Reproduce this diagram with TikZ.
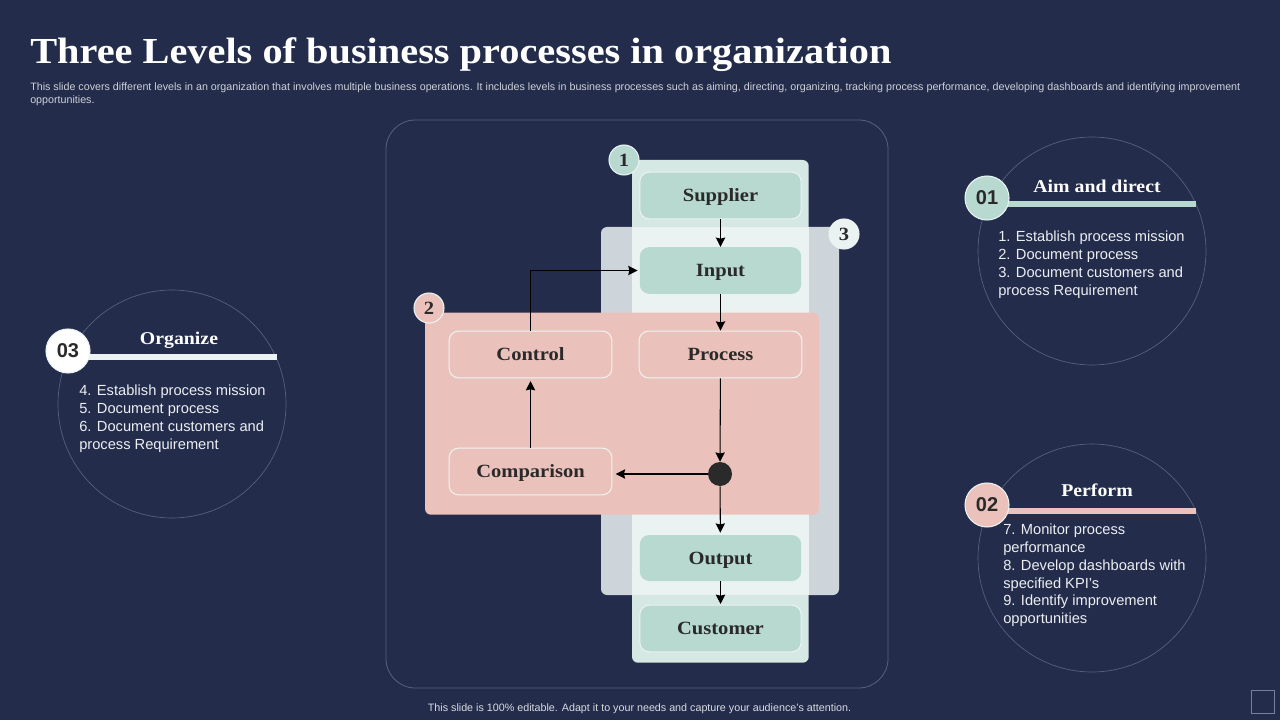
\documentclass[tikz,border=0pt]{standalone}
\usepackage{fontspec}
\usetikzlibrary{arrows.meta}
\setmainfont{Liberation Sans}
\newfontfamily\headfont[FakeStretch=1.1]{Liberation Serif}
\definecolor{bgc}{HTML}{232D4B}
\definecolor{mint}{HTML}{B7D9CF}
\definecolor{mintpanel}{HTML}{D6E8E4}
\definecolor{overlap}{HTML}{EBF3F2}
\definecolor{greypanel}{HTML}{CDD5DA}
\definecolor{pinkc}{HTML}{EBC2BB}
\definecolor{outline}{HTML}{566180}
\definecolor{tan}{HTML}{D2B48C}
\definecolor{bodytext}{HTML}{ECEEF2}
\definecolor{darktext}{HTML}{2A2A2A}
\tikzset{
  x=0.75pt,y=-0.75pt,
  panel/.style={rounded corners=4.5pt},
  stepbox/.style={rectangle,rounded corners=7pt,minimum width=121pt,minimum height=35pt,inner sep=0pt,text height=12pt,text depth=2.5pt,font=\headfont\bfseries\fontsize{14}{17}\selectfont,text=darktext,anchor=center},
  mintbox/.style={stepbox,fill=mint},
  mintrim/.style={mintbox,draw=overlap,line width=0.8pt},
  pinkbox/.style={stepbox,minimum width=122pt,fill=pinkc,draw=overlap,line width=0.8pt},
  flow/.style={draw=black,line width=0.8pt,-{Stealth[length=7pt,width=7pt,inset=0.8pt]}},
  badge/.style={circle,inner sep=0pt,minimum size=22.5pt,draw=overlap,line width=0.8pt,font=\headfont\bfseries\fontsize{14}{16}\selectfont,text=darktext},
  bigbadge/.style={circle,inner sep=0pt,minimum size=33pt,draw=overlap,line width=0.8pt,font=\bfseries\fontsize{15}{18}\selectfont,text=darktext},
  ring/.style={circle,draw=outline,line width=0.5pt,inner sep=0pt,minimum size=171pt},
  head/.style={text=white,font=\headfont\bfseries\fontsize{13.5}{16}\selectfont,inner sep=0pt},
  body/.style={anchor=north west,align=left,inner sep=0pt,text=bodytext,font=\fontsize{11}{13.3}\selectfont},
}
\begin{document}
\begin{tikzpicture}
\fill[bgc] (0,0) rectangle (1280,720);
\useasboundingbox (0,0) rectangle (1280,720);
% title and notes
\node[anchor=base west,inner sep=0pt,text=white,font=\headfont\bfseries\fontsize{27.5}{32}\selectfont] (title) at (30,64) {Three Levels of business processes in organization};
\node[anchor=north west,align=left,inner sep=0pt,text=bodytext!85!bgc,font=\fontsize{8.03}{9.9}\selectfont] (note) at (30,82.5) {This slide covers different levels in an organization that involves multiple business operations. It includes levels in business processes such as aiming, directing, organizing, tracking process performance, developing dashboards and identifying improvement\\opportunities.};
\node[inner sep=0pt,text=bodytext!90!bgc,font=\fontsize{8.05}{9.9}\selectfont] (foot) at (639.5,708.5) {This slide is 100\% editable. Adapt it to your needs and capture your audience's attention.};
% decorations
\draw[tan,line width=0.7pt] (20,720) arc[start angle=180,end angle=0,radius=60];
\draw[outline!80!white,line width=0.7pt] (1251.5,690.5) rectangle (1274.5,713.5);
% frame and panels
\draw[outline,line width=0.6pt,rounded corners=22pt] (386,120) rectangle (888,688);
\fill[mintpanel,panel] (632,160) rectangle (808.7,662.7);
\fill[greypanel,panel] (601,227) rectangle (839,595);
\fill[overlap] (632,227) rectangle (808.7,595);
\fill[pinkc,panel] (425,312.7) rectangle (819,514.7);
% step boxes
\node[mintrim] (sup) at (720.5,195.5) {Supplier};
\node[mintbox] (inp) at (720.5,270.5) {Input};
\node[pinkbox] (pro) at (720.5,354.5) {Process};
\node[pinkbox] (ctl) at (530.5,354.5) {Control};
\node[pinkbox] (cmp) at (530.5,471.5) {Comparison};
\node[mintbox,minimum height=34.5pt] (out) at (720.5,558) {Output};
\node[mintrim] (cus) at (720.5,628.5) {Customer};
\node[circle,fill=darktext,inner sep=0pt,minimum size=18pt] (dot) at (720,474) {};
% connectors
\draw[flow] (sup) -- (inp);
\draw[flow] (inp) -- (pro);
\draw[flow] (pro) -- (dot);
\draw[flow,shorten >=2.5pt] (dot.west) -- (cmp.east|-dot.west);
\draw[flow,shorten >=1.5pt] (dot) -- (out);
\draw[flow,shorten >=0.5pt] (out) -- (cus);
\draw[flow,shorten >=2pt] (cmp) -- (ctl);
\draw[flow,shorten >=1.5pt] (ctl.north) |- (inp.west);
% number badges
\node[badge,fill=mint] (b1) at (624,160) {1};
\node[badge,fill=pinkc] (b2) at (429,308) {2};
\node[badge,fill=overlap] (b3) at (844,234) {3};
% right top
\node[ring] (r1) at (1092,251) {};
\fill[mint] (1000,201) rectangle (1196,207);
\node[bigbadge,fill=mint] (n1) at (987,198) {01};
\node[head] (h1) at (1097,186) {Aim and direct};
\node[body] (t1) at (998,231) {1. Establish process mission\\2. Document process\\3. Document customers and\\process Requirement};
% right bottom
\node[ring] (r2) at (1092,558) {};
\fill[pinkc] (1000,508) rectangle (1196,514);
\node[bigbadge,fill=pinkc] (n2) at (987,505) {02};
\node[head] (h2) at (1097,490) {Perform};
\node[body] (t2) at (1003,524) {7. Monitor process\\performance\\8. Develop dashboards with\\specified KPI's\\9. Identify improvement\\opportunities};
% left
\node[ring] (r3) at (172,404) {};
\fill[overlap] (80,354) rectangle (277,360);
\node[bigbadge,fill=white] (n3) at (68,351) {03};
\node[head] (h3) at (179,340) {Organize};
\node[body] (t3) at (79,385) {4. Establish process mission\\5. Document process\\6. Document customers and\\process Requirement};
\end{tikzpicture}
\end{document}
